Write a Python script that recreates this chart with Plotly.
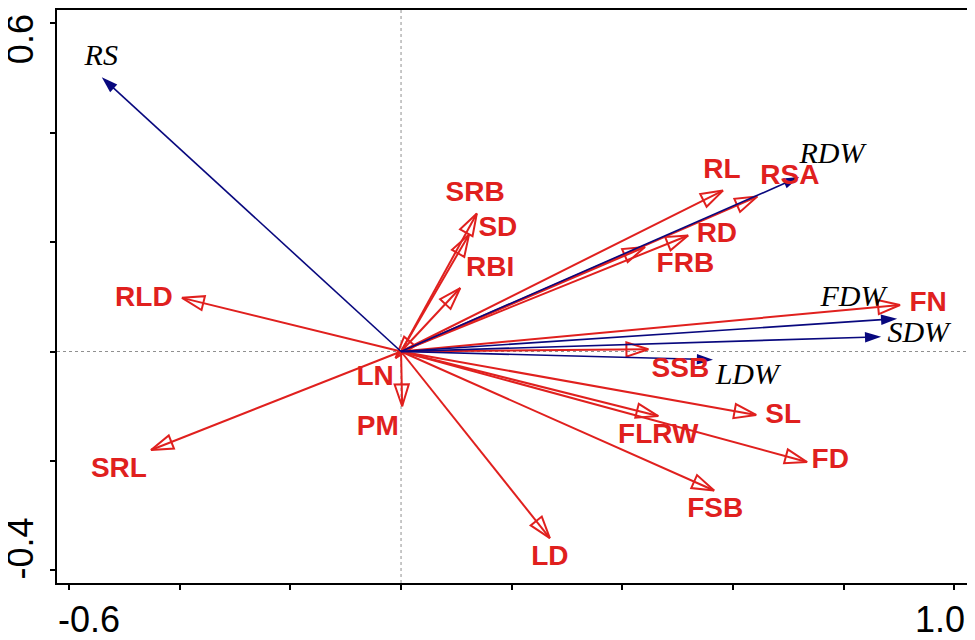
"""
RDA biplot - growth traits (red, open heads) vs. biomass variables (blue).
"""

import plotly.graph_objects as go

# --- response traits (red arrows)
trait_names = ["RLD", "SRL", "LN", "PM", "LD", "FSB", "FD", "SL", "FLRW",
               "SSB", "FN", "RD", "FRB", "RL", "RSA", "SRB", "SD", "RBI"]
trait_x = [-0.396, -0.452, -0.010, 0.002, 0.269, 0.566, 0.734, 0.642, 0.465,
           0.447, 0.902, 0.519, 0.441, 0.582, 0.644, 0.137, 0.123, 0.107]
trait_y = [0.098, -0.180, -0.012, -0.100, -0.341, -0.254, -0.202, -0.116, -0.118,
           0.004, 0.085, 0.212, 0.191, 0.294, 0.283, 0.252, 0.214, 0.116]
# where the trait names sit
trait_lab_x = [-0.465, -0.510, -0.047, -0.042, 0.269, 0.568, 0.776, 0.691, 0.465,
               0.505, 0.953, 0.571, 0.514, 0.580, 0.703, 0.134, 0.175, 0.161]
trait_lab_y = [0.096, -0.216, -0.049, -0.140, -0.377, -0.290, -0.200, -0.118, -0.154,
               -0.033, 0.087, 0.212, 0.158, 0.330, 0.318, 0.287, 0.223, 0.151]

# --- explanatory variables (blue arrows)
env_names = ["RS", "RDW", "FDW", "SDW", "LDW"]
env_x = [-0.541, 0.720, 0.897, 0.868, 0.564]
env_y = [0.501, 0.319, 0.060, 0.027, -0.015]
env_lab_x = [-0.542, 0.779, 0.817, 0.935, 0.626]
env_lab_y = [0.537, 0.358, 0.096, 0.031, -0.045]

# axis ticks, only the ends are labelled
x_ticks = [-0.6, -0.4, -0.2, 0.0, 0.2, 0.4, 0.6, 0.8, 1.0]
y_ticks = [-0.4, -0.2, 0.0, 0.2, 0.4, 0.6]
x_tick_labels = ["-0.6", "1.0"]
y_tick_labels = ["0.6", "-0.4"]

RED = "#e0201e"
NAVY = "#08087e"

fig = go.Figure()

# red arrows first, blue on top
# (size is an array, so opacity has to be set or plotly fades the heads)
for x, y in zip(trait_x, trait_y):
    fig.add_trace(go.Scatter(
        x=[0, x], y=[0, y], mode="lines+markers",
        line=dict(color=RED, width=2),
        marker=dict(symbol="arrow-open", size=[0, 23], angleref="previous",
                    color=RED, opacity=1, line=dict(color=RED, width=2)),
        hoverinfo="skip", showlegend=False,
    ))

for x, y in zip(env_x, env_y):
    fig.add_trace(go.Scatter(
        x=[0, x], y=[0, y], mode="lines+markers",
        line=dict(color=NAVY, width=1.6),
        marker=dict(symbol="arrow", size=[0, 17], angleref="previous",
                    color=NAVY, opacity=1, line=dict(width=0)),
        hoverinfo="skip", showlegend=False,
    ))

fig.add_trace(go.Scatter(
    x=trait_lab_x, y=trait_lab_y, text=trait_names, mode="text",
    textposition="middle center",
    textfont=dict(family="Liberation Sans, Arial", size=28, color=RED, weight="bold"),
    hoverinfo="skip", showlegend=False,
))
fig.add_trace(go.Scatter(
    x=env_lab_x, y=env_lab_y, text=env_names, mode="text",
    textposition="middle center",
    textfont=dict(family="Liberation Serif, Times New Roman", size=30, color="black",
                  style="italic"),
    hoverinfo="skip", showlegend=False,
))

# dotted zero lines
fig.add_shape(type="line", xref="x", yref="paper", x0=0, x1=0, y0=0, y1=1,
              line=dict(color="#909090", width=1, dash="dot"), layer="below")
fig.add_shape(type="line", xref="paper", yref="y", x0=0, x1=1, y0=0, y1=0,
              line=dict(color="#909090", width=1, dash="dot"), layer="below")

# end labels of the axes
tick_font = dict(family="Liberation Sans, Arial", size=36, color="black")
fig.add_annotation(x=x_ticks[0], y=0, xref="x", yref="paper", text=x_tick_labels[0],
                   showarrow=False, xanchor="left", yanchor="top",
                   xshift=-13, yshift=-14, font=tick_font)
fig.add_annotation(x=x_ticks[-1], y=0, xref="x", yref="paper", text=x_tick_labels[1],
                   showarrow=False, xanchor="right", yanchor="top",
                   xshift=13, yshift=-14, font=tick_font)
fig.add_annotation(x=0, y=y_ticks[-1], xref="paper", yref="y", text=y_tick_labels[0],
                   showarrow=False, xanchor="center", yanchor="middle", textangle=-90,
                   xshift=-37, yshift=-16, font=tick_font)
fig.add_annotation(x=0, y=y_ticks[0], xref="paper", yref="y", text=y_tick_labels[1],
                   showarrow=False, xanchor="center", yanchor="middle", textangle=-90,
                   xshift=-37, yshift=22, font=tick_font)

axis_style = dict(showgrid=False, zeroline=False, showline=True, linecolor="black",
                  linewidth=2, mirror=True, ticks="outside", ticklen=5, tickwidth=1.5,
                  tickcolor="black", showticklabels=False)

# page body adds an 8px margin, so the figure is 8px smaller than the window
fig.update_layout(
    width=967, height=632,
    margin=dict(l=49, r=7, t=0, b=57),
    paper_bgcolor="white", plot_bgcolor="white",
    xaxis=dict(range=[-0.622, 1.025], tickvals=x_ticks, **axis_style),
    yaxis=dict(range=[-0.423, 0.624], tickvals=y_ticks, **axis_style),
)

fig.write_html("out.html")
